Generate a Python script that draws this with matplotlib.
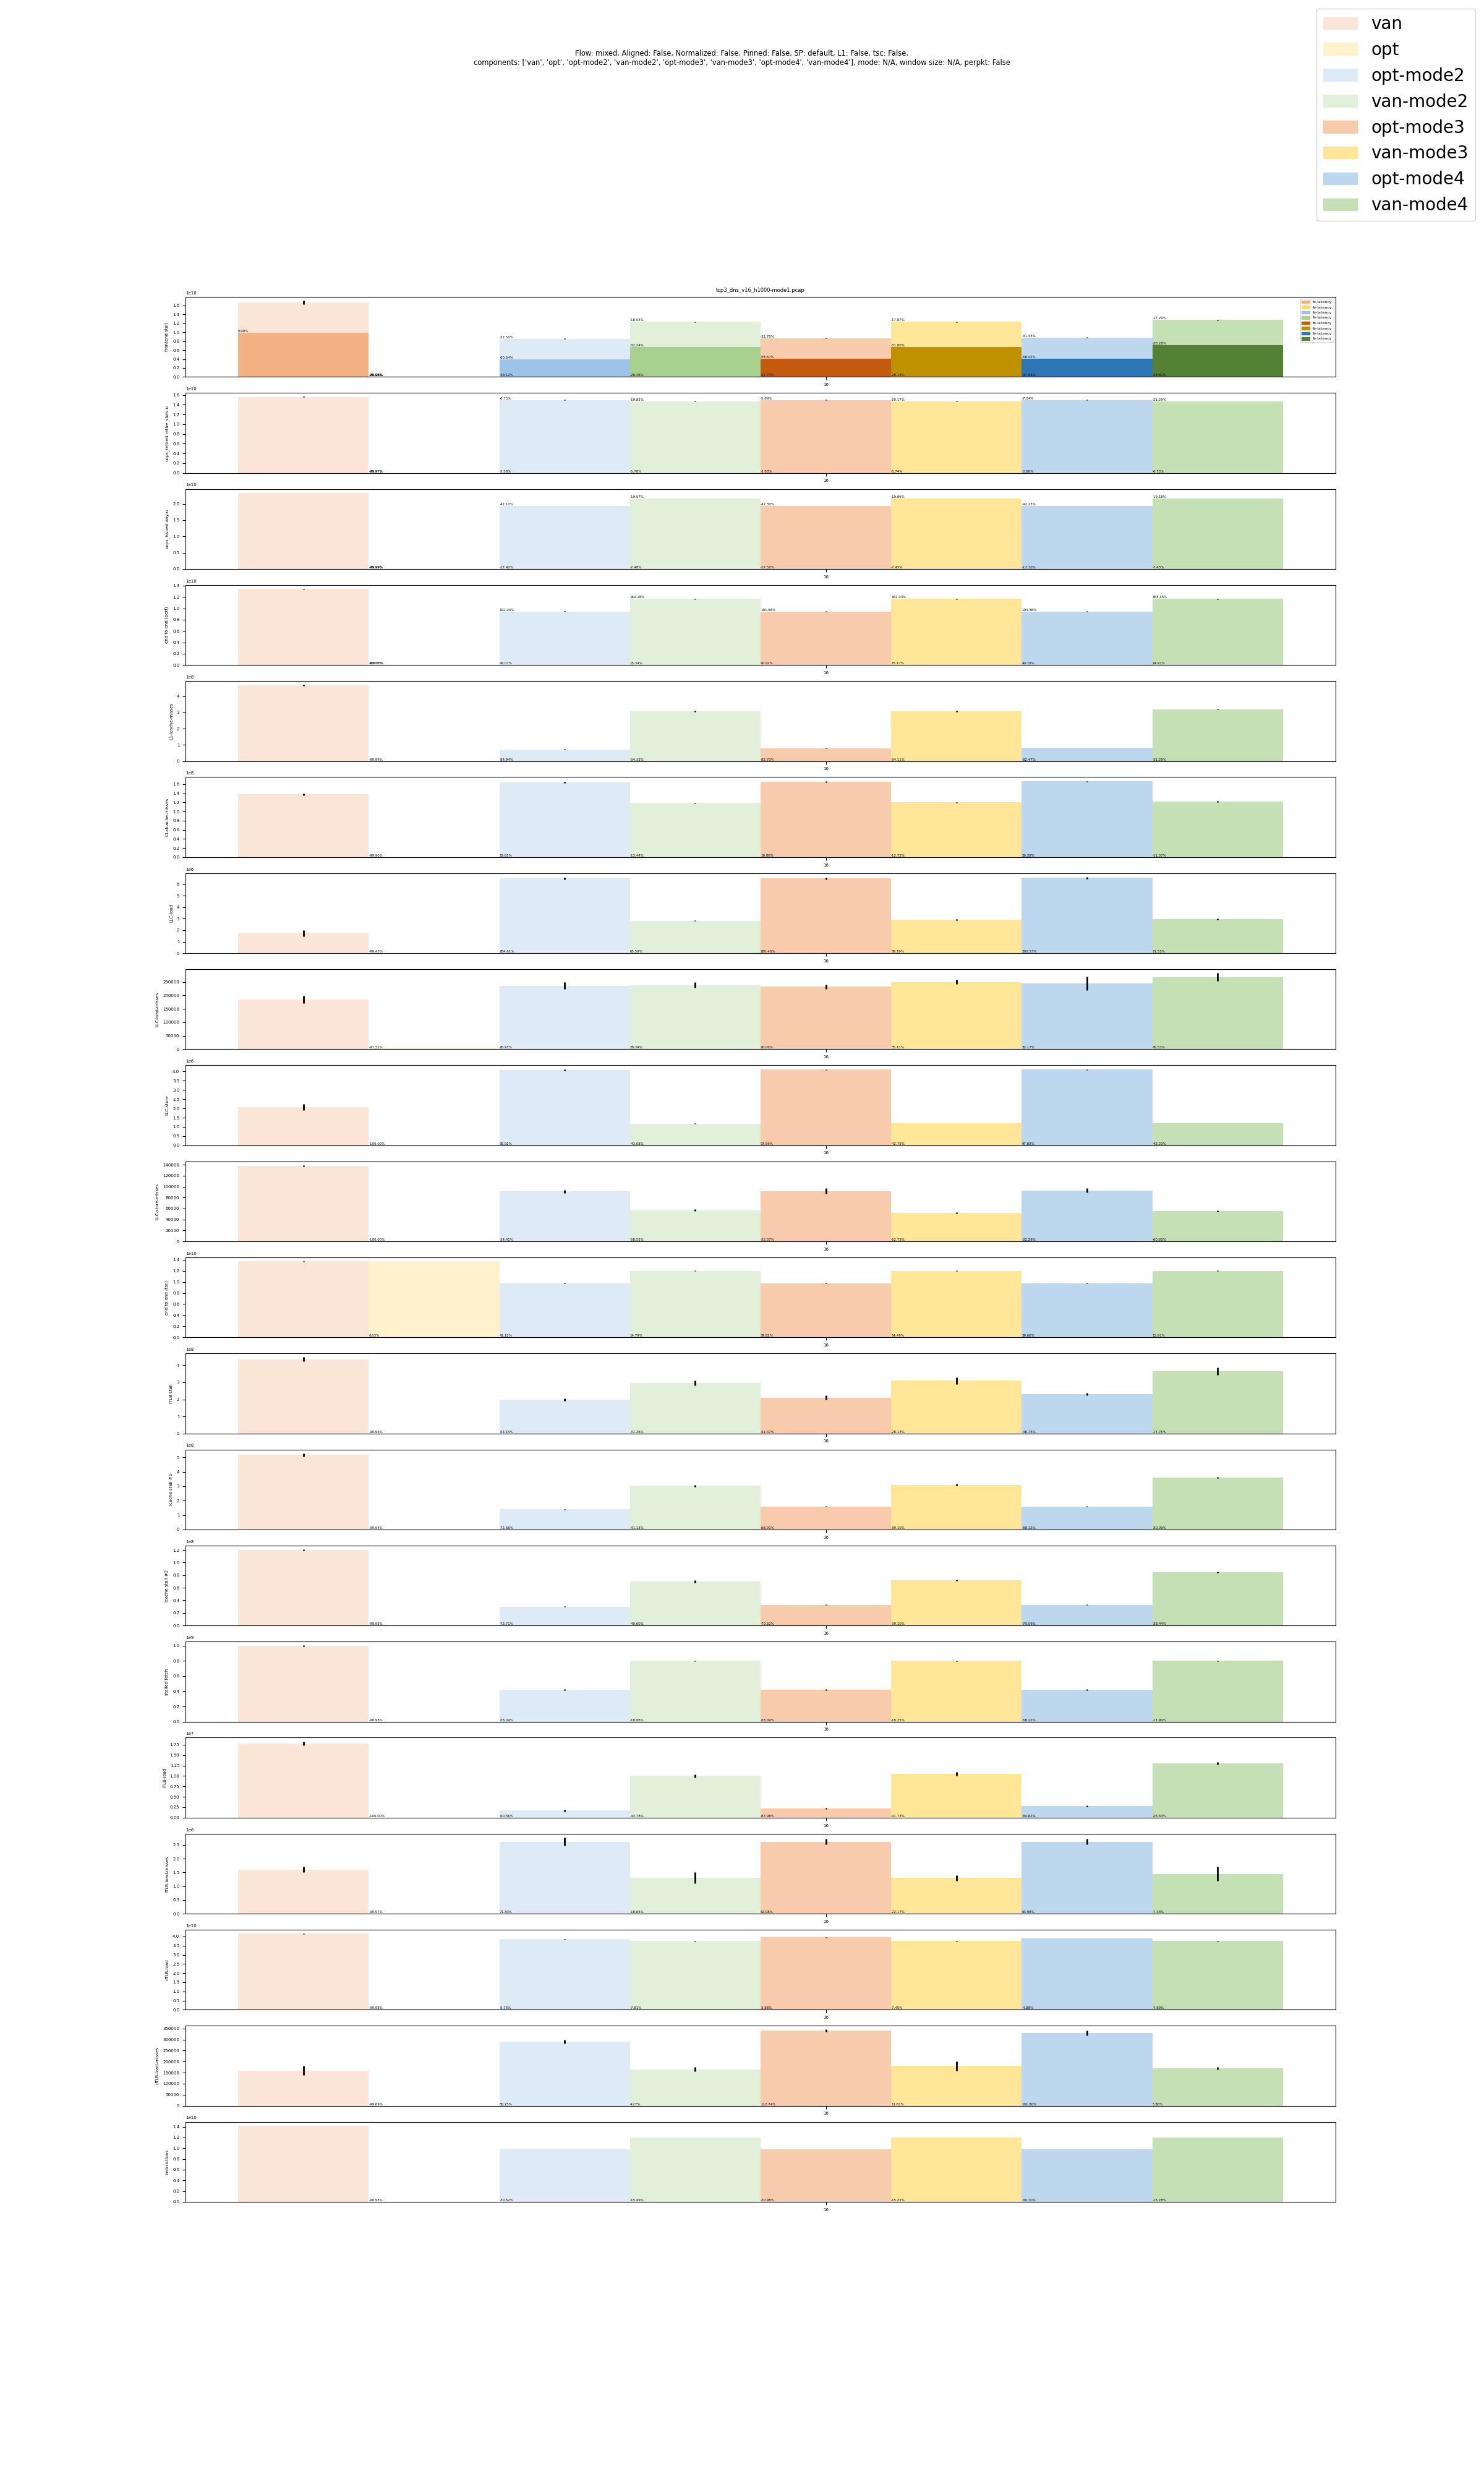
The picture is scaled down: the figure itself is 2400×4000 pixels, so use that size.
import matplotlib
matplotlib.use("Agg")
import matplotlib.pyplot as plt
from matplotlib.patches import Patch

plt.rcParams["font.size"] = 5

components = ["van", "opt", "opt-mode2", "van-mode2", "opt-mode3", "van-mode3", "opt-mode4", "van-mode4"]
light_colors = ["#FBE5D6", "#FFF2CC", "#DEEBF7", "#E2F0D9", "#F8CBAD", "#FFE699", "#BDD7EE", "#C5E0B4"]
fe_colors = ["#F4B183", "#FFD966", "#9DC3E6", "#A9D18E", "#C55A11", "#BF9000", "#2E75B6", "#548235"]
xtick_label = "16"
title = "tcp3_dns_v16_h1000-mode1.pcap"
suptitle = ("Flow: mixed, Aligned: False, Normalized: False, Pinned: False, SP: default, L1: False, tsc: False,\n"
            "components: ['van', 'opt', 'opt-mode2', 'van-mode2', 'opt-mode3', 'van-mode3', 'opt-mode4', "
            "'van-mode4'], mode: N/A, window size: N/A, perpkt: False")

# frontend stall + fe-latency part
frontend_stall = [1.667e10, 3.0e6, 0.855e10, 1.234e10, 0.869e10, 1.234e10, 0.883e10, 1.276e10]
frontend_stall_err = [0.04e10, 0, 0.01e10, 0.01e10, 0.005e10, 0.01e10, 0.005e10, 0.01e10]
fe_latency = [0.995e10, 2.0e6, 0.392e10, 0.673e10, 0.407e10, 0.673e10, 0.407e10, 0.715e10]
frontend_stall_top = ["", "-99.96%", "-32.50%", "-18.03%", "-31.75%", "-17.87%", "-31.43%", "-17.29%"]
fe_latency_pct = ["0.00%", "-99.98%", "-60.54%", "-32.24%", "-58.67%", "-31.80%", "-58.42%", "-28.28%"]
frontend_stall_pct = ["", "-99.98%", "-49.12%", "-26.46%", "-47.71%", "-26.13%", "-47.43%", "-23.81%"]

uops_retired = [1.563e10, 4.7e6, 1.50e10, 1.475e10, 1.50e10, 1.475e10, 1.50e10, 1.47e10]
uops_retired_err = [0.002e10, 0, 0.002e10, 0.003e10, 0.002e10, 0.003e10, 0.002e10, 0.003e10]
uops_retired_top = ["", "-99.97%", "-6.73%", "-19.85%", "-5.89%", "-20.17%", "-7.04%", "-21.29%"]
uops_retired_pct = ["", "-99.97%", "-3.58%", "-5.70%", "-3.80%", "-5.74%", "-3.80%", "-6.75%"]

uops_issued = [2.334e10, 2.3e6, 1.93e10, 2.158e10, 1.93e10, 2.16e10, 1.93e10, 2.16e10]
uops_issued_err = [0.003e10, 0, 0.005e10, 0.003e10, 0.003e10, 0.003e10, 0.003e10, 0.003e10]
uops_issued_top = ["", "-99.98%", "-42.10%", "-19.07%", "-42.30%", "-19.86%", "-42.23%", "-19.18%"]
uops_issued_pct = ["", "-99.99%", "-17.42%", "-7.48%", "-17.32%", "-7.45%", "-17.30%", "-7.45%"]

end_to_end_perf = [1.34e10, 1.7e7, 0.945e10, 1.165e10, 0.945e10, 1.165e10, 0.945e10, 1.165e10]
end_to_end_perf_err = [0.004e10, 0, 0.002e10, 0.002e10, 0.002e10, 0.002e10, 0.002e10, 0.002e10]
end_to_end_perf_top = ["", "318.26%", "192.03%", "160.18%", "191.68%", "162.03%", "194.38%", "163.45%"]
end_to_end_perf_pct = ["", "-99.87%", "42.07%", "15.34%", "40.92%", "15.17%", "40.79%", "14.91%"]

l1_icache = [4.656e8, 4.0e4, 0.72e8, 3.066e8, 0.80e8, 3.07e8, 0.82e8, 3.2e8]
l1_icache_err = [0.04e8, 0, 0.01e8, 0.03e8, 0.01e8, 0.03e8, 0.01e8, 0.03e8]
l1_icache_pct = ["", "-99.99%", "-84.94%", "-34.33%", "-82.73%", "-34.11%", "-82.47%", "-31.29%"]

l1_dcache = [1.377e8, 1.4e5, 1.636e8, 1.186e8, 1.65e8, 1.20e8, 1.66e8, 1.22e8]
l1_dcache_err = [0.02e8, 0, 0.01e8, 0.01e8, 0.01e8, 0.01e8, 0.01e8, 0.01e8]
l1_dcache_pct = ["", "-99.90%", "19.65%", "-13.44%", "19.86%", "-12.72%", "20.38%", "-11.07%"]

llc_load = [1.72e6, 1.0e4, 6.50e6, 2.82e6, 6.50e6, 2.90e6, 6.55e6, 2.95e6]
llc_load_err = [0.27e6, 0, 0.08e6, 0.02e6, 0.08e6, 0.05e6, 0.08e6, 0.05e6]
llc_load_pct = ["", "-99.43%", "284.61%", "65.59%", "280.46%", "69.19%", "280.53%", "71.55%"]

llc_load_misses = [184400, 4600, 236000, 238500, 232000, 250000, 245000, 268000]
llc_load_misses_err = [14500, 0, 12500, 10500, 8000, 8000, 25000, 15000]
llc_load_misses_pct = ["", "-97.51%", "26.93%", "28.34%", "26.06%", "35.11%", "32.17%", "45.53%"]

llc_store = [2.074e6, 2.0e2, 4.08e6, 1.175e6, 4.10e6, 1.20e6, 4.10e6, 1.20e6]
llc_store_err = [0.17e6, 0, 0.05e6, 0.01e6, 0.03e6, 0.01e6, 0.03e6, 0.01e6]
llc_store_pct = ["", "-100.00%", "95.92%", "-43.08%", "97.59%", "-42.75%", "97.83%", "-42.23%"]

llc_store_misses = [137700, 10, 91000, 56900, 92000, 52000, 93000, 55000]
llc_store_misses_err = [1500, 0, 2500, 1500, 5000, 1000, 4000, 1000]
llc_store_misses_pct = ["", "-100.00%", "-34.41%", "-58.55%", "-33.37%", "-62.73%", "-32.29%", "-60.60%"]

end_to_end_tsc = [1.37e10, 1.37e10, 0.977e10, 1.20e10, 0.977e10, 1.20e10, 0.977e10, 1.20e10]
end_to_end_tsc_err = [0.003e10, 0, 0.003e10, 0.003e10, 0.003e10, 0.003e10, 0.003e10, 0.003e10]
end_to_end_tsc_pct = ["", "0.03%", "41.12%", "14.79%", "39.82%", "14.49%", "39.66%", "13.91%"]

itlb_stall = [4.35e8, 1.7e5, 1.99e8, 2.97e8, 2.10e8, 3.10e8, 2.30e8, 3.65e8]
itlb_stall_err = [0.12e8, 0, 0.08e8, 0.15e8, 0.12e8, 0.2e8, 0.08e8, 0.2e8]
itlb_stall_pct = ["", "-99.96%", "-54.15%", "-31.26%", "-51.47%", "-28.13%", "-46.75%", "-17.75%"]

icache_stall_1 = [5.16e8, 3.0e5, 1.40e8, 3.02e8, 1.60e8, 3.10e8, 1.60e8, 3.60e8]
icache_stall_1_err = [0.12e8, 0, 0.03e8, 0.08e8, 0.02e8, 0.05e8, 0.02e8, 0.05e8]
icache_stall_1_pct = ["", "-99.94%", "-72.66%", "-41.13%", "-68.91%", "-39.10%", "-68.12%", "-30.09%"]

icache_stall_2 = [1.20e8, 2.0e4, 0.30e8, 0.70e8, 0.33e8, 0.72e8, 0.33e8, 0.85e8]
icache_stall_2_err = [0.01e8, 0, 0.005e8, 0.02e8, 0.005e8, 0.01e8, 0.005e8, 0.01e8]
icache_stall_2_pct = ["", "-99.98%", "-73.71%", "-40.60%", "-70.52%", "-39.10%", "-70.09%", "-28.44%"]

stalled_fetch = [1.0e9, 2.0e5, 0.42e9, 0.80e9, 0.42e9, 0.80e9, 0.42e9, 0.80e9]
stalled_fetch_err = [0.005e9, 0, 0.005e9, 0.005e9, 0.005e9, 0.005e9, 0.005e9, 0.005e9]
stalled_fetch_pct = ["", "-99.98%", "-58.04%", "-18.88%", "-58.04%", "-18.25%", "-58.22%", "-17.90%"]

itlb_load = [1.78e7, 1.0e3, 0.17e7, 1.00e7, 0.22e7, 1.05e7, 0.28e7, 1.30e7]
itlb_load_err = [0.05e7, 0, 0.02e7, 0.04e7, 0.01e7, 0.04e7, 0.01e7, 0.03e7]
itlb_load_pct = ["", "-100.00%", "-90.56%", "-43.78%", "-87.98%", "-41.73%", "-84.62%", "-26.63%"]

itlb_load_misses = [1.60e6, 500, 2.62e6, 1.30e6, 2.62e6, 1.30e6, 2.62e6, 1.45e6]
itlb_load_misses_err = [0.1e6, 0, 0.15e6, 0.2e6, 0.1e6, 0.1e6, 0.1e6, 0.25e6]
itlb_load_misses_pct = ["", "-99.97%", "71.30%", "-18.65%", "62.98%", "-22.17%", "63.98%", "-7.33%"]

dtlb_load = [4.15e10, 1.0e7, 3.85e10, 3.75e10, 3.95e10, 3.75e10, 3.90e10, 3.75e10]
dtlb_load_err = [0.01e10, 0, 0.01e10, 0.01e10, 0.01e10, 0.01e10, 0.01e10, 0.01e10]
dtlb_load_pct = ["", "-99.98%", "-5.75%", "-7.81%", "-3.88%", "-7.45%", "-4.88%", "-7.89%"]

dtlb_load_misses = [160000, 500, 290000, 165000, 340000, 180000, 330000, 170000]
dtlb_load_misses_err = [20000, 0, 8000, 10000, 5000, 20000, 12000, 5000]
dtlb_load_misses_pct = ["", "-99.69%", "80.25%", "4.27%", "112.74%", "11.61%", "101.80%", "5.36%"]

instructions = [1.42e10, 3.0e6, 0.98e10, 1.20e10, 0.98e10, 1.20e10, 0.98e10, 1.20e10]
instructions_err = [0.002e10, 0, 0.002e10, 0.002e10, 0.002e10, 0.002e10, 0.002e10, 0.002e10]
instructions_pct = ["", "-99.98%", "-30.52%", "-15.49%", "-30.98%", "-15.22%", "-30.70%", "-15.78%"]

panels = [
    ("frontend stall", frontend_stall, frontend_stall_err, frontend_stall_top, frontend_stall_pct),
    ("uops_retired.retire_slots:u", uops_retired, uops_retired_err, uops_retired_top, uops_retired_pct),
    ("uops_issued.any:u", uops_issued, uops_issued_err, uops_issued_top, uops_issued_pct),
    ("end to end (perf)", end_to_end_perf, end_to_end_perf_err, end_to_end_perf_top, end_to_end_perf_pct),
    ("L1-icache-misses", l1_icache, l1_icache_err, None, l1_icache_pct),
    ("L1-dcache-misses", l1_dcache, l1_dcache_err, None, l1_dcache_pct),
    ("LLC-load", llc_load, llc_load_err, None, llc_load_pct),
    ("LLC-load-misses", llc_load_misses, llc_load_misses_err, None, llc_load_misses_pct),
    ("LLC-store", llc_store, llc_store_err, None, llc_store_pct),
    ("LLC-store-misses", llc_store_misses, llc_store_misses_err, None, llc_store_misses_pct),
    ("end to end (tsc)", end_to_end_tsc, end_to_end_tsc_err, None, end_to_end_tsc_pct),
    ("ITLB stall", itlb_stall, itlb_stall_err, None, itlb_stall_pct),
    ("icache stall #1", icache_stall_1, icache_stall_1_err, None, icache_stall_1_pct),
    ("icache stall #2", icache_stall_2, icache_stall_2_err, None, icache_stall_2_pct),
    ("stalled fetch", stalled_fetch, stalled_fetch_err, None, stalled_fetch_pct),
    ("iTLB-load", itlb_load, itlb_load_err, None, itlb_load_pct),
    ("iTLB-load-misses", itlb_load_misses, itlb_load_misses_err, None, itlb_load_misses_pct),
    ("dTLB-load", dtlb_load, dtlb_load_err, None, dtlb_load_pct),
    ("dTLB-load-misses", dtlb_load_misses, dtlb_load_misses_err, None, dtlb_load_misses_pct),
    ("instructions", instructions, instructions_err, None, instructions_pct),
]


def draw_panel(ax, values, errors, top_labels, bottom_labels):
    xs = list(range(len(components)))
    ax.bar(xs, values, width=1.0, align="edge", color=light_colors, linewidth=0)
    centers = [x + 0.5 for x in xs]
    for cx, v, e in zip(centers, values, errors):
        if e > 0:
            ax.vlines(cx, v - e, v + e, color="black", linewidth=2)
    if top_labels is not None:
        for x, v, lab in zip(xs, values, top_labels):
            if lab:
                ax.text(x, v, lab, fontsize=4, va="bottom", ha="left")
    for x, lab in zip(xs, bottom_labels):
        if lab:
            ax.text(x, 0, lab, fontsize=4, va="bottom", ha="left")


fig, axes = plt.subplots(len(panels), 1, figsize=(24, 40))
for i, (ax, (ylabel, values, errors, top_labels, bottom_labels)) in enumerate(zip(axes, panels)):
    draw_panel(ax, values, errors, top_labels, bottom_labels)
    if i == 0:
        xs = list(range(len(components)))
        ax.bar(xs, fe_latency, width=1.0, align="edge", color=fe_colors, linewidth=0)
        for x, v, lab in zip(xs, fe_latency, fe_latency_pct):
            ax.text(x, v, lab, fontsize=4, va="bottom", ha="left")
        ax.set_title(title)
        fe_handles = [Patch(color=c) for c in fe_colors]
        ax.legend(fe_handles, ["fe-latency"] * len(fe_colors), loc="upper right", fontsize=4.5)
    ax.set_ylabel(ylabel)
    ax.set_xlim(-0.403, len(components) + 0.403)
    ax.set_xticks([4.5])
    ax.set_xticklabels([xtick_label])

fig.suptitle(suptitle, fontsize=8.3)
handles = [Patch(color=c) for c in light_colors]
fig.legend(handles, components, loc="upper right", fontsize=20)
fig.savefig("out.png", dpi=100)
